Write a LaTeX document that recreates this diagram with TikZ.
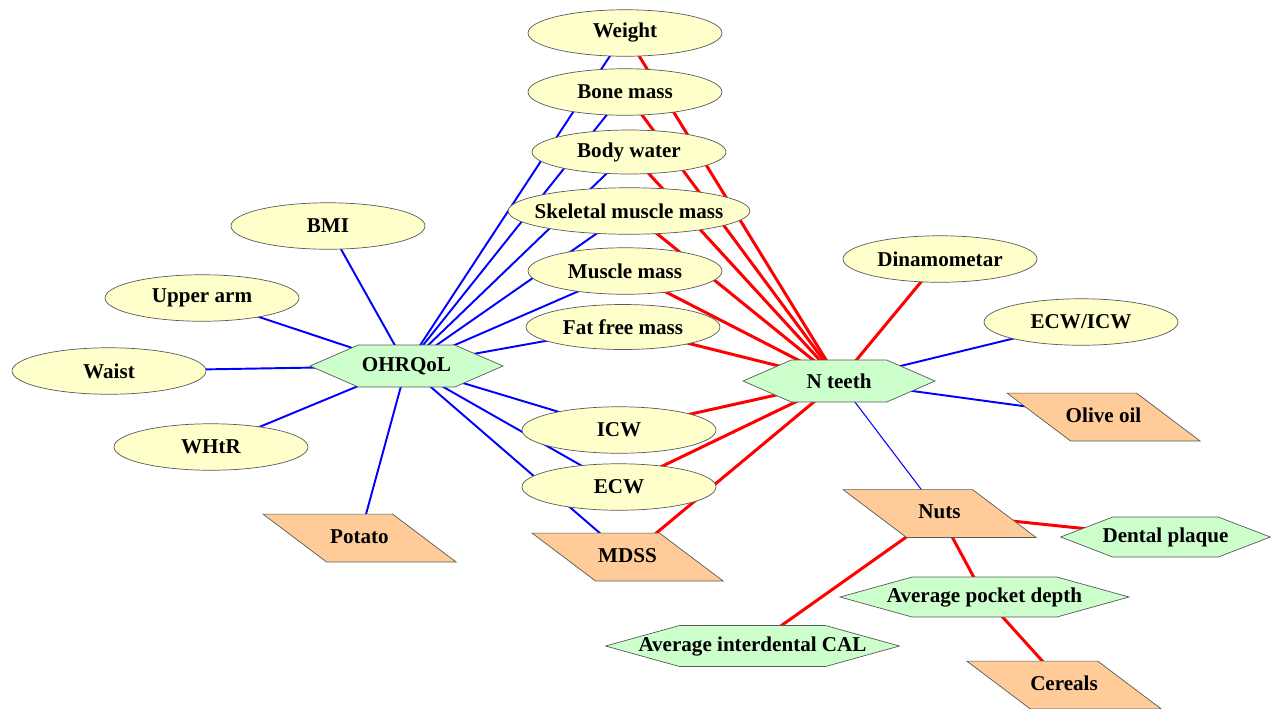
\documentclass[tikz,border=0pt]{standalone}
\usepackage{fontspec}
\setmainfont{Liberation Serif}
\usetikzlibrary{shapes.geometric,shapes.symbols,backgrounds}
\definecolor{elly}{RGB}{255,255,204}
\definecolor{hexg}{RGB}{204,255,204}
\definecolor{parc}{RGB}{255,204,153}
\colorlet{edg}{black!65}
\tikzset{
    varb/.style={ellipse,draw=edg,fill=elly,inner sep=0pt,minimum width=3.88cm,minimum height=0.93cm},
    hexa/.style={signal,signal to=west and east,signal pointer angle=#1,draw=edg,fill=hexg,inner sep=0pt,minimum height=0.84cm},
    food/.style={trapezium,trapezium left angle=143,trapezium right angle=37,trapezium stretches body,
        draw=edg,fill=parc,inner xsep=0pt,inner ysep=8.15pt,text height=8.3pt,text depth=2.6pt,minimum width=3.86cm},
    blu/.style={blue,line width=1.1pt},
    thinblu/.style={blue,line width=0.6pt},
    rd/.style={red,line width=1.7pt}
}

\begin{document}
\begin{tikzpicture}[x=0.02cm,y=-0.02cm,font=\fontsize{12}{14}\selectfont\bfseries]
    \useasboundingbox (0,0) rectangle (1277,708);
    % body composition
    \node [varb] (weight) at (625,33) {Weight};
    \node [varb] (bone) at (625,92) {Bone mass};
    \node [varb,minimum height=0.88cm] (water) at (629,152) {Body water};
    \node [varb,inner xsep=-0.176cm,minimum width=4.82cm] (skel) at (629,211) {Skeletal muscle mass};
    \node [varb] (muscle) at (625,271) {Muscle mass};
    \node [varb,minimum height=0.9cm] (ffm) at (623,327) {Fat free mass};
    \node [varb] (icw) at (619,430) {ICW};
    \node [varb] (ecw) at (619,487) {ECW};
    \node [varb] (bmi) at (328,226) {BMI};
    \node [varb] (arm) at (202,298) {Upper arm};
    \node [varb] (waist) at (109,371) {Waist};
    \node [varb] (whtr) at (211,447) {WHtR};
    \node [varb] (dina) at (940,259) {Dinamometar};
    \node [varb] (ecwicw) at (1081,322) {ECW/ICW};
    % outcomes
    \node [hexa=47,minimum width=3.86cm] (ohr) at (406.5,366) {OHRQoL};
    \node [hexa=47,minimum width=3.84cm] (nteeth) at (839,381) {N teeth};
    \node [hexa=42,inner xsep=-0.205cm,minimum height=0.8cm] (plaque) at (1165.5,537) {Dental plaque};
    \node [hexa=31,inner xsep=-0.505cm,minimum height=0.8cm] (pocket) at (984.5,597) {Average pocket depth};
    \node [hexa=31,inner xsep=-0.82cm,minimum height=0.82cm] (cal) at (752.5,646) {Average interdental CAL};
    % diet
    \node [food] (potato) at (359.5,538) {Potato};
    \node [food,minimum width=3.82cm] (mdss) at (627.5,557) {MDSS};
    \node [food,inner xsep=-0.1cm] (olive) at (1103.5,417) {Olive oil};
    \node [food] (nuts) at (939.5,513.5) {Nuts};
    \node [food] (cereals) at (1064,685) {Cereals};

    \begin{scope}[on background layer]
        \foreach \t in {weight,bone,water,skel,muscle,ffm,icw,ecw,mdss,bmi,arm,waist,whtr,potato} {
            \draw [blu] (ohr.center) -- (\t.center);
        }
        \foreach \t in {weight,bone,water,skel,muscle,ffm,icw,ecw,mdss,dina} {
            \draw [rd] (nteeth.center) -- (\t.center);
        }
        \draw [blu] (nteeth.center) -- (ecwicw.center);
        \draw [blu] (nteeth.center) -- (olive.center);
        \draw [thinblu] (nteeth.center) -- (nuts.center);
        \foreach \t in {plaque,pocket,cal} {
            \draw [rd] (nuts.center) -- (\t.center);
        }
        \draw [rd] (pocket.center) -- (cereals.center);
    \end{scope}
\end{tikzpicture}
\end{document}
